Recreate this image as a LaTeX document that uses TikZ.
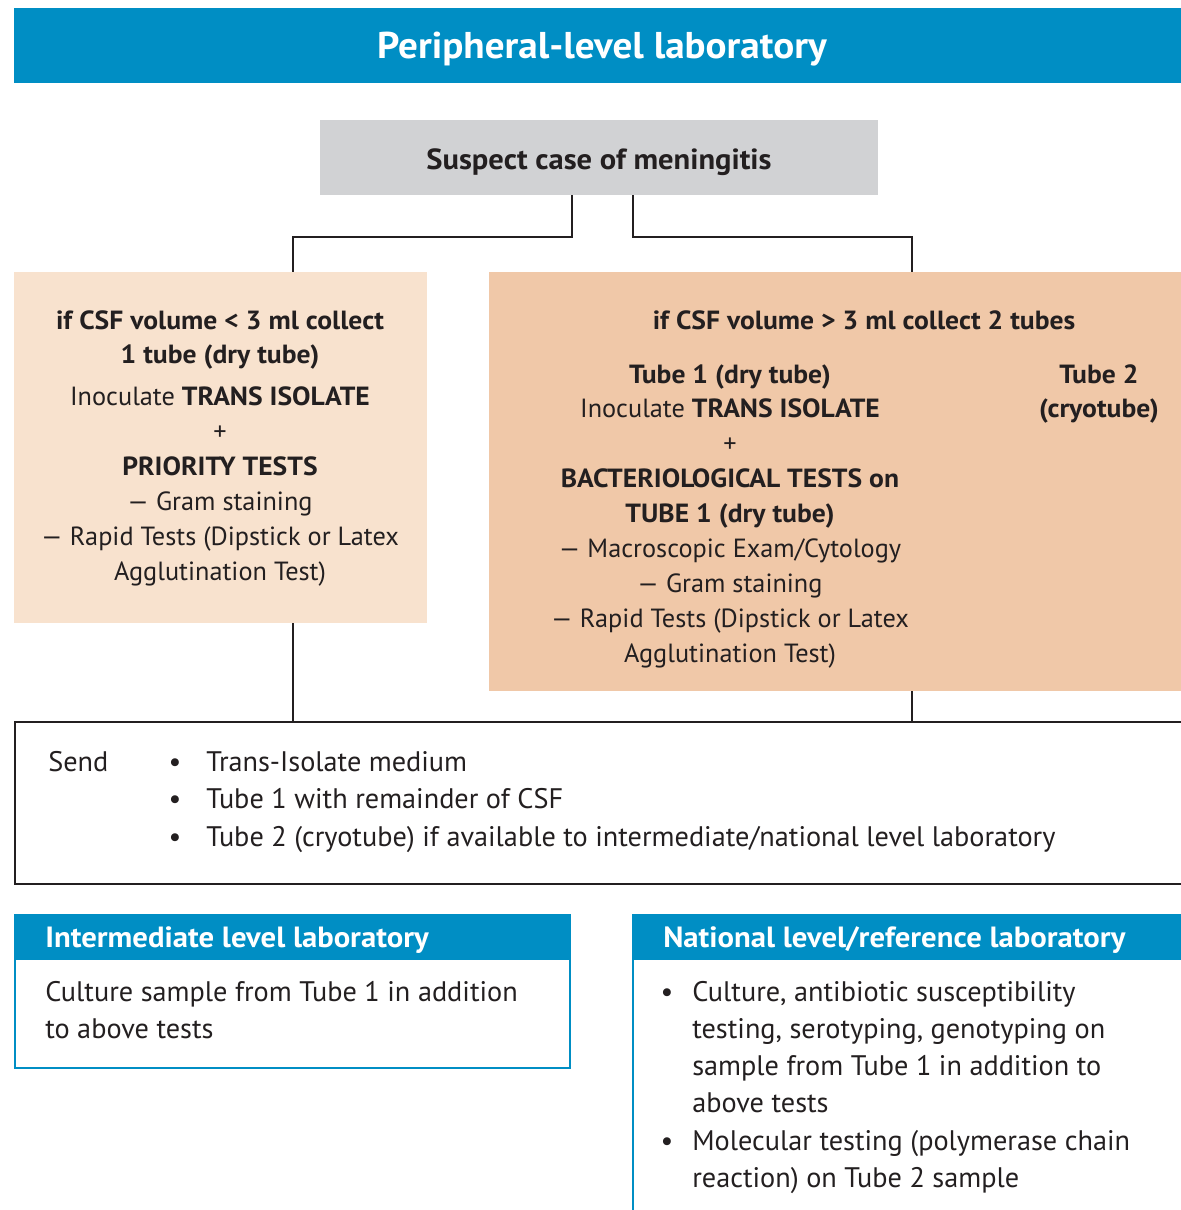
\documentclass[tikz,border=0pt]{standalone}
\usepackage{fontspec}
\setmainfont{PT Sans}[BoldFeatures={FakeStretch=1.05}]
\usetikzlibrary{positioning, fit, calc}
\definecolor{labblue}{RGB}{0,142,196}
\definecolor{casegray}{RGB}{209,210,212}
\definecolor{peachlight}{RGB}{248,226,206}
\definecolor{peachdark}{RGB}{240,200,168}
\definecolor{ink}{RGB}{35,31,32}

\begin{document}
\begin{tikzpicture}[x=0.025cm, y=-0.025cm,
    panel/.style={inner sep=0, outer sep=0},
    body/.style={font=\fontsize{18.7}{24.8}\selectfont, text=ink, align=center, inner sep=0, anchor=north},
    big/.style={font=\fontsize{20.1}{26.4}\selectfont, text=ink, align=left, inner sep=0},
    head/.style={font=\bfseries\fontsize{20.8}{24}\selectfont, text=white, inner sep=0, anchor=base west},
    link/.style={draw=ink, line width=1.5pt}]
    \useasboundingbox (0,0) rectangle (1180,1210);

    % header bar
    \node[panel, fill=labblue, fit={(14,8) (1195,83)}] (top) {};
    \node[font=\bfseries\fontsize{26.5}{30}\selectfont, text=white, inner sep=0] (toptxt) at (602,49) {Peripheral-level laboratory};

    % suspect case
    \node[panel, fill=casegray, fit={(320,120) (878,195)}] (suspect) {};
    \node[body, anchor=center, font=\bfseries\fontsize{20.7}{24}\selectfont] (suspecttxt) at (599,162) {Suspect case of meningitis};

    % the two CSF boxes
    \node[panel, fill=peachlight, fit={(14,272) (427,623)}] (left) {};
    \node[panel, fill=peachdark, fit={(489,272) (1195,691)}] (right) {};

    \node[body] (lefttxt) at (220,310) {\textbf{if CSF volume < 3 ml collect}\\
        \textbf{1 tube (dry tube)}\\[5pt]
        Inoculate \textbf{TRANS ISOLATE}\\
        +\\
        \textbf{PRIORITY TESTS}\\
        — Gram staining\\
        — Rapid Tests (Dipstick or Latex\\
        Agglutination Test)};

    \node[body] (righthead) at (864,310) {\textbf{if CSF volume > 3 ml collect 2 tubes}};
    \node[body] (tubeone) at (730,364) {\textbf{Tube 1 (dry tube)}\\
        Inoculate \textbf{TRANS ISOLATE}\\
        +\\
        \textbf{BACTERIOLOGICAL TESTS on}\\
        \textbf{TUBE 1 (dry tube)}\\
        — Macroscopic Exam/Cytology\\
        — Gram staining\\
        — Rapid Tests (Dipstick or Latex\\
        Agglutination Test)};
    \node[body] (tubetwo) at (1099,364) {\textbf{Tube 2}\\ \textbf{(cryotube)}};

    % send box
    \node[panel, draw=ink, line width=1.7pt, fit={(15,722) (1200,884)}] (send) {};
    \node[big, anchor=base west] (sendtxt) at (48,771) {Send};
    \foreach \i/\y/\t in {1/771/{Trans-Isolate medium},
                          2/808/{Tube 1 with remainder of CSF},
                          3/846/{Tube 2 (cryotube) if available to intermediate/national level laboratory}}{
        \node[big, anchor=base] (sb\i) at (175,\y) {\textbullet};
        \node[big, anchor=base west] (s\i) at (206,\y) {\t};
    }

    % connectors
    \coordinate (kL) at (572,237);
    \coordinate (kR) at (633,237);
    \coordinate (dL) at (293,272);
    \coordinate (dR) at (912,272);
    \draw[link] (kL |- suspect.south) -- (kL) -| (dL);
    \draw[link] (kR |- suspect.south) -- (kR) -| (dR);
    \draw[link] (dL |- left.south) -- (dL |- send.north);
    \draw[link] (dR |- right.south) -- (dR |- send.north);

    % intermediate level
    \node[panel, draw=labblue, line width=1.5pt, fit={(15,915) (570,1068)}] (inter) {};
    \node[panel, fill=labblue, fit={(15,915) (570,960)}] (interhead) {};
    \node[head] (intertitle) at (45,947) {Intermediate level laboratory};
    \node[big, anchor=north west] (intertxt) at (45,981) {Culture sample from Tube 1 in addition\\to above tests};

    % national level
    \node[panel, draw=labblue, line width=1.5pt, fit={(633,915) (1200,1230)}] (nat) {};
    \node[panel, fill=labblue, fit={(633,915) (1200,960)}] (nathead) {};
    \node[head] (nattitle) at (663,947) {National level/reference laboratory};
    \node[big, anchor=base] (nb1) at (667,1001) {\textbullet};
    \node[big, anchor=north west] (n1) at (692,981) {Culture, antibiotic susceptibility\\
        testing, serotyping, genotyping on\\
        sample from Tube 1 in addition to\\
        above tests};
    \node[big, anchor=base] (nb2) at (667,1150) {\textbullet};
    \node[big, anchor=north west] (n2) at (692,1130) {Molecular testing (polymerase chain\\
        reaction) on Tube 2 sample};
\end{tikzpicture}
\end{document}
